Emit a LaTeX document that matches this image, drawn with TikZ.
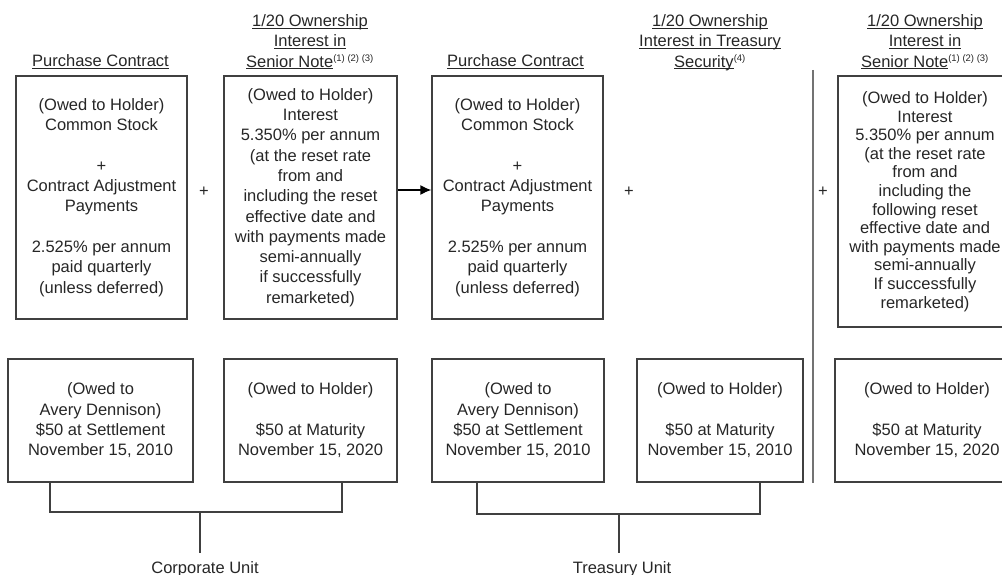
\documentclass[tikz,border=0pt]{standalone}
\usepackage{fontspec}
\setmainfont{Liberation Sans}
\usetikzlibrary{arrows.meta}

\newcommand{\ul}[1]{\underline{\raisebox{0pt}[\height][0pt]{#1}}}
\newcommand{\notes}[1]{\textsuperscript{\fontsize{9.5}{9.5}\selectfont #1}}

\begin{document}
\begin{tikzpicture}[
    x=1pt, y=-1pt,
    font={\fontsize{16.5}{20.3}\selectfont},
    nodes={inner sep=0pt, text=black!85},
    box/.style={draw=black!75, line width=1.2pt, align=center},
    head/.style={align=center},
    link/.style={draw=black!75, line width=1.2pt},
    unit/.style={outer ysep=8.5pt},
  ]
  \clip (0,0) rectangle (1002,575);

  % headings
  \node (HeadPurchaseA) at (100.5,62) {\ul{Purchase Contract}};
  \node (HeadNoteA) at (310,42) [head] {\ul{1/20 Ownership}\\ \ul{Interest in}\\ \ul{Senior Note}\notes{(1) (2) (3)}};
  \node (HeadPurchaseB) at (515.5,62) {\ul{Purchase Contract}};
  \node (HeadTreasury) at (710,42) [head] {\ul{1/20 Ownership}\\ \ul{Interest in Treasury}\\ \ul{Security}\notes{(4)}};
  \node (HeadNoteB) at (925,42) [head] {\ul{1/20 Ownership}\\ \ul{Interest in}\\ \ul{Senior Note}\notes{(1) (2) (3)}};

  % upper boxes
  \node (PurchaseA) at (101.5,197.5) [box, minimum width=171pt, minimum height=243pt] {
      (Owed to Holder)\\ Common Stock\\[20.3pt] +\\ Contract Adjustment\\ Payments\\[20.3pt]
      2.525\% per annum\\ paid quarterly\\ (unless deferred)
  };
  \node (NoteA) at (310.5,197.5) [box, minimum width=173pt, minimum height=243pt] {
      (Owed to Holder)\\ Interest\\ 5.350\% per annum\\ (at the reset rate\\ from and\\
      including the reset\\ effective date and\\ with payments made\\ semi-annually\\
      if successfully\\ remarketed)
  };
  \node (PurchaseB) at (517.5,197.5) [box, minimum width=171pt, minimum height=243pt] {
      (Owed to Holder)\\ Common Stock\\[20.3pt] +\\ Contract Adjustment\\ Payments\\[20.3pt]
      2.525\% per annum\\ paid quarterly\\ (unless deferred)
  };
  \node (NoteB) at (925,201.5) [box, minimum width=174pt, minimum height=251pt,
      font={\fontsize{16.5}{18.6}\selectfont}] {
      (Owed to Holder)\\ Interest\\ 5.350\% per annum\\ (at the reset rate\\ from and\\
      including the\\ following reset\\ effective date and\\ with payments made\\
      semi-annually\\ If successfully\\ remarketed)
  };

  \node (PlusA) at (204,192) {+};
  \node (PlusB) at (629,192) {+};
  \node (PlusC) at (823,192) {+};

  % lower boxes
  \node (SettleA) at (100.5,420.5) [box, minimum width=185pt, minimum height=123pt] {
      (Owed to\\ Avery Dennison)\\ \$50 at Settlement\\ November 15, 2010
  };
  \node (MaturityA) at (310.5,420.5) [box, minimum width=173pt, minimum height=123pt] {
      (Owed to Holder)\\[20.3pt] \$50 at Maturity\\ November 15, 2020
  };
  \node (SettleB) at (518,420.5) [box, minimum width=172pt, minimum height=123pt] {
      (Owed to\\ Avery Dennison)\\ \$50 at Settlement\\ November 15, 2010
  };
  \node (MaturityB) at (720,420.5) [box, minimum width=166pt, minimum height=123pt] {
      (Owed to Holder)\\[20.3pt] \$50 at Maturity\\ November 15, 2010
  };
  \node (MaturityC) at (927,420.5) [box, minimum width=184pt, minimum height=123pt] {
      (Owed to Holder)\\[20.3pt] \$50 at Maturity\\ November 15, 2020
  };

  % units
  \node (CorpUnit) at (205,569) [unit] {Corporate Unit};
  \node (TreasUnit) at (622,569) [unit] {Treasury Unit};

  \coordinate (CorpL) at (50,512);
  \coordinate (CorpR) at (342,512);
  \coordinate (CorpM) at (200,512);
  \coordinate (TreasL) at (477,514);
  \coordinate (TreasR) at (760,514);
  \coordinate (TreasM) at (619,514);
  \coordinate (SepTop) at (813,70);
  \coordinate (SepBot) at (813,483);

  \draw[link] (SettleA.south -| CorpL) -- (CorpL) -- (CorpR) -- (MaturityA.south -| CorpR);
  \draw[link] (CorpM) -- (CorpM |- CorpUnit.north);
  \draw[link] (SettleB.south -| TreasL) -- (TreasL) -- (TreasR) -- (MaturityB.south -| TreasR);
  \draw[link] (TreasM) -- (TreasM |- TreasUnit.north);

  \draw[black, line width=1.6pt, -{Latex[length=11pt,width=10pt]}]
    ([yshift=7.5pt]NoteA.east) -- ([yshift=7.5pt]PurchaseB.west);
  \draw[black!55, line width=2pt] (SepTop) -- (SepBot);
\end{tikzpicture}
\end{document}
